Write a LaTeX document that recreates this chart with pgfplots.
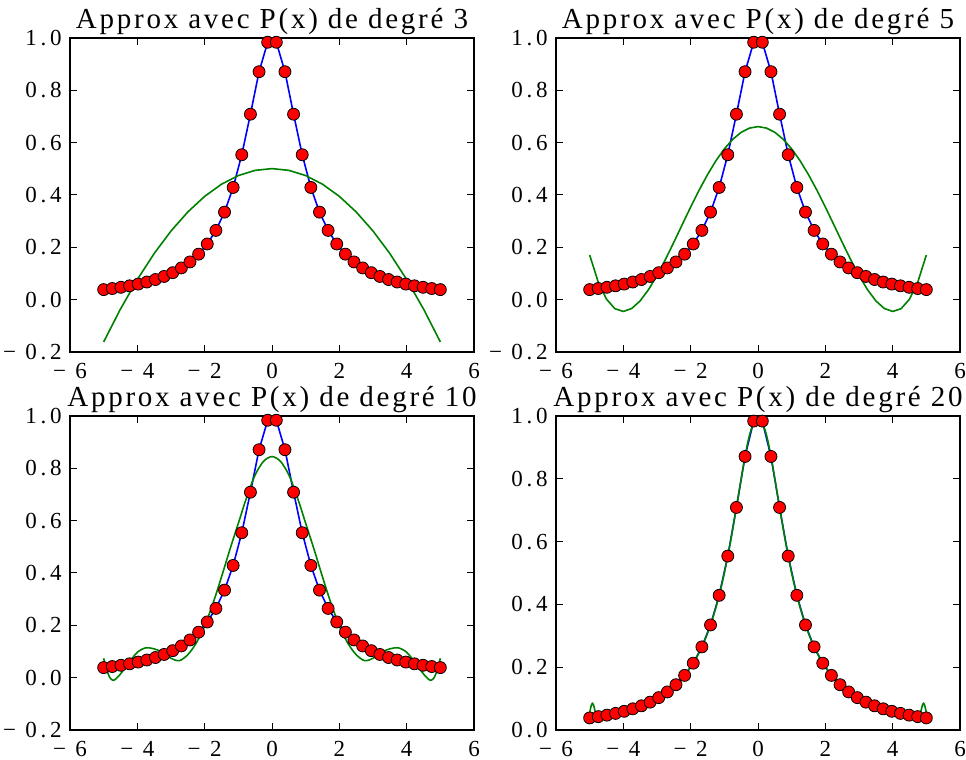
\documentclass[border=0pt]{standalone}
\usepackage{fontspec}
\setmainfont{Liberation Serif}
\newfontfamily\tickfont{Liberation Serif}[LetterSpace=16]
\newfontfamily\titlefont{Liberation Serif}[LetterSpace=9.5]
\usepackage{pgfplots}
\usepackage{pgfplotstable}
\pgfplotsset{compat=1.18}
\definecolor{mplblue}{RGB}{0,0,255}
\definecolor{mplgreen}{RGB}{0,128,0}
\definecolor{mplred}{RGB}{255,0,0}

% 40 points of 1/(1+x^2) on [-5,5]
\pgfplotstableread{
x y
-5.00000 0.038462
-4.74359 0.042550
-4.48718 0.047315
-4.23077 0.052912
-3.97436 0.059540
-3.71795 0.067462
-3.46154 0.077028
-3.20513 0.088708
-2.94872 0.103146
-2.69231 0.121234
-2.43590 0.144225
-2.17949 0.173907
-1.92308 0.212847
-1.66667 0.264706
-1.41026 0.334579
-1.15385 0.428932
-0.89744 0.553894
-0.64103 0.708758
-0.38462 0.871131
-0.12821 0.983828
0.12821 0.983828
0.38462 0.871131
0.64103 0.708758
0.89744 0.553894
1.15385 0.428932
1.41026 0.334579
1.66667 0.264706
1.92308 0.212847
2.17949 0.173907
2.43590 0.144225
2.69231 0.121234
2.94872 0.103146
3.20513 0.088708
3.46154 0.077028
3.71795 0.067462
3.97436 0.059540
4.23077 0.052912
4.48718 0.047315
4.74359 0.042550
5.00000 0.038462
}\runge

\pgfplotstableread{
x y
-5.0 -0.16139
-4.5 -0.03557
-4.0 0.07700
-3.5 0.17633
-3.0 0.26242
-2.5 0.33526
-2.0 0.39486
-1.5 0.44121
-1.0 0.47432
-0.5 0.49419
0.0 0.50081
0.5 0.49419
1.0 0.47432
1.5 0.44121
2.0 0.39486
2.5 0.33526
3.0 0.26242
3.5 0.17633
4.0 0.07700
4.5 -0.03557
5.0 -0.16139
}\pthree

\pgfplotstableread{
x y
-5.00 0.17069
-4.75 0.06871
-4.50 0.00188
-4.25 -0.03452
-4.00 -0.04497
-3.75 -0.03366
-3.50 -0.00458
-3.25 0.03859
-3.00 0.09240
-2.75 0.15365
-2.50 0.21940
-2.25 0.28698
-2.00 0.35396
-1.75 0.41817
-1.50 0.47769
-1.25 0.53086
-1.00 0.57628
-0.75 0.61280
-0.50 0.63952
-0.25 0.65581
0.00 0.66128
0.25 0.65581
0.50 0.63952
0.75 0.61280
1.00 0.57628
1.25 0.53086
1.50 0.47769
1.75 0.41817
2.00 0.35396
2.25 0.28698
2.50 0.21940
2.75 0.15365
3.00 0.09240
3.25 0.03859
3.50 -0.00458
3.75 -0.03366
4.00 -0.04497
4.25 -0.03452
4.50 0.00188
4.75 0.06871
5.00 0.17069
}\pfive

\pgfplotstableread{
x y
-5.00 0.074
-4.90 0.026
-4.80 -0.003
-4.70 -0.010
-4.60 0.000
-4.50 0.014
-4.25 0.058
-4.00 0.097
-3.75 0.114
-3.50 0.110
-3.25 0.097
-3.00 0.074
-2.75 0.065
-2.50 0.088
-2.25 0.132
-2.00 0.198
-1.75 0.285
-1.50 0.385
-1.25 0.490
-1.00 0.590
-0.75 0.690
-0.50 0.775
-0.25 0.827
0.00 0.845
0.25 0.827
0.50 0.775
0.75 0.690
1.00 0.590
1.25 0.490
1.50 0.385
1.75 0.285
2.00 0.198
2.25 0.132
2.50 0.088
2.75 0.065
3.00 0.074
3.25 0.097
3.50 0.110
3.75 0.114
4.00 0.097
4.25 0.058
4.50 0.014
4.60 0.000
4.70 -0.010
4.80 -0.003
4.90 0.026
5.00 0.074
}\pten

\pgfplotstableread{
x y
-5.00 0.055
-4.96 0.075
-4.92 0.085
-4.88 0.078
-4.84 0.060
-4.80 0.046
-4.70 0.043
-4.50 0.047
-4.00 0.0588
-3.50 0.0755
-3.00 0.100
-2.75 0.1168
-2.50 0.1379
-2.25 0.1649
-2.00 0.200
-1.80 0.2358
-1.60 0.2809
-1.40 0.3378
-1.20 0.4098
-1.00 0.500
-0.80 0.6098
-0.60 0.7353
-0.50 0.800
-0.40 0.8621
-0.30 0.9174
-0.20 0.958
-0.10 0.973
0.00 0.975
0.10 0.973
0.20 0.958
0.30 0.9174
0.40 0.8621
0.50 0.800
0.60 0.7353
0.80 0.6098
1.00 0.500
1.20 0.4098
1.40 0.3378
1.60 0.2809
1.80 0.2358
2.00 0.200
2.25 0.1649
2.50 0.1379
2.75 0.1168
3.00 0.100
3.50 0.0755
4.00 0.0588
4.50 0.047
4.70 0.043
4.80 0.046
4.84 0.060
4.88 0.078
4.92 0.085
4.96 0.075
5.00 0.055
}\ptwenty

\pgfplotsset{
  panel/.style={
    width=202pt, height=157pt, scale only axis,
    anchor=north west,
    xmin=-6, xmax=6,
    xtick={-6,-4,-2,0,2,4,6},
    xticklabels={− 6,− 4,− 2,0,2,4,6},
    tick align=inside,
    major tick length=3.5pt,
    axis line style={line width=0.6pt},
    every tick/.style={black, line width=0.5pt},
    tick label style={font=\tickfont\fontsize{11.5}{13}\selectfont},
    xticklabel style={inner sep=0pt, anchor=north, yshift=-5.5pt},
    yticklabel style={inner sep=0pt, anchor=east, xshift=-4pt},
    every axis title/.style={at={(0.5,1)}, anchor=base, yshift=5pt,
      inner sep=0pt, font=\titlefont\fontsize{14.5}{17}\selectfont},
    clip mode=individual,
  },
  fullrange/.style={
    ymin=-0.2, ymax=1.0,
    ytick={-0.2,0,0.2,0.4,0.6,0.8,1.0},
    yticklabels={− 0.2,0.0,0.2,0.4,0.6,0.8,1.0},
  },
  bline/.style={mplblue, line width=0.8pt},
  gline/.style={mplgreen, line width=0.8pt},
  dots/.style={only marks, mark=*, mark size=3pt,
    mark options={fill=mplred, draw=black, line width=0.4pt}},
}

\begin{document}
\begin{tikzpicture}
\begin{axis}[panel, fullrange, at={(35pt,-19pt)},
  title={Approx avec P(x) de degré 3}]
  \addplot[bline] table {\runge};
  \addplot[gline] table {\pthree};
  \addplot[dots] table {\runge};
\end{axis}

\begin{axis}[panel, fullrange, at={(278pt,-19pt)},
  title={Approx avec P(x) de degré 5}]
  \addplot[bline] table {\runge};
  \addplot[gline] table {\pfive};
  \addplot[dots] table {\runge};
\end{axis}

\begin{axis}[panel, fullrange, at={(35pt,-208pt)},
  title={Approx avec P(x) de degré 10}]
  \addplot[bline] table {\runge};
  \addplot[gline, smooth] table {\pten};
  \addplot[dots] table {\runge};
\end{axis}

\begin{axis}[panel, at={(278pt,-208pt)},
  ymin=0, ymax=1.0,
  ytick={0,0.2,0.4,0.6,0.8,1.0},
  yticklabels={0.0,0.2,0.4,0.6,0.8,1.0},
  title={Approx avec P(x) de degré 20}]
  \addplot[bline] table {\runge};
  \addplot[gline, smooth] table {\ptwenty};
  \addplot[dots] table {\runge};
\end{axis}

\pgfresetboundingbox
\path[use as bounding box] (0,0) rectangle (483pt,-380pt);
\end{tikzpicture}
\end{document}
